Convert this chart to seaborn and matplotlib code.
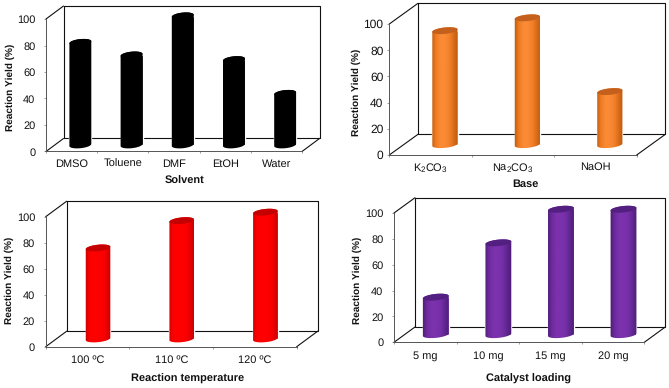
import numpy as np
import matplotlib
matplotlib.use("Agg")
import matplotlib.pyplot as plt
from matplotlib.colors import LinearSegmentedColormap
from matplotlib.lines import Line2D
from matplotlib.patches import Polygon
from matplotlib.ticker import FixedLocator
from matplotlib.transforms import Affine2D, IdentityTransform
import seaborn as sns

solvents = ["DMSO", "Toluene", "DMF", "EtOH", "Water"]
solvent_yield = [77.5, 68, 97.5, 64.5, 39]
bases = [r"K$_2$CO$_3$", r"Na$_2$CO$_3$", "NaOH"]
base_yield = [87, 96.8, 40.5]
temperatures = ["100 ºC", "110 ºC", "120 ºC"]
temperature_yield = [70, 91, 97.5]
loadings = ["5 mg", "10 mg", "15 mg", "20 mg"]
loading_yield = [29, 71, 97, 97]
y_ticks = [0, 20, 40, 60, 80, 100]

W, H = 669, 388
sns.set_theme(style="white")
plt.rcParams["font.family"] = ["Liberation Sans", "DejaVu Sans"]
plt.rcParams["mathtext.default"] = "regular"
plt.rcParams["mathtext.fontset"] = "custom"
plt.rcParams["mathtext.rm"] = "Liberation Sans"
plt.rcParams["text.hinting"] = "no_hinting"
plt.rcParams["text.hinting_factor"] = 1

fig = plt.figure(figsize=(W / 100, H / 100), dpi=100, facecolor="white")
figpx = Affine2D().scale(1 / W, -1 / H).translate(0, 1) + fig.transFigure


def panel(cats, vals, xlabel, front, depth, bar_w, stops, cap, xlab_xy, ylab_xy, ypad, xpad, yfs):
    x0, x1, y100, y0 = front
    dx, dy = depth
    ax = fig.add_axes([x0 / W, 1 - y0 / H, (x1 - x0) / W, (y0 - y100) / H])
    ax.set_facecolor("none")
    sns.barplot(x=cats, y=vals, color=stops[len(stops) // 2], width=bar_w, saturation=1, ax=ax, zorder=3)
    n = len(cats)
    ax.set_xlim(-0.5, n - 0.5)
    ax.set_ylim(0, 100)
    ax.set_autoscale_on(False)
    ax.set_yticks(y_ticks)
    ax.xaxis.set_minor_locator(FixedLocator(np.arange(n + 1) - 0.5))
    ax.tick_params(axis="x", which="major", length=0, pad=xpad, labelsize=7.8, labelcolor="#111111")
    ax.tick_params(axis="x", which="minor", length=1.6, width=0.5, color="#777777", bottom=True)
    ax.tick_params(axis="y", length=1.6, width=0.5, color="#777777", left=True, pad=ypad,
                   labelsize=yfs, labelcolor="#111111")
    for s in ["top", "right"]:
        ax.spines[s].set_visible(False)
    for s in ["left", "bottom"]:
        ax.spines[s].set_linewidth(0.7)
        ax.spines[s].set_color("#555555")
    ax.set_xlabel(xlabel, fontsize=7.6, fontweight="bold", color="#111111", ha="center", va="center")
    ax.set_ylabel("Reaction Yield (%)", fontsize=7.3, fontweight="bold", color="#111111",
                  ha="center", va="center")
    ax.xaxis.set_label_coords(*xlab_xy, transform=figpx)
    ax.yaxis.set_label_coords(*ylab_xy, transform=figpx)

    # back wall and floor edges
    shift = Affine2D().translate(dx, dy)
    back = ax.transAxes + shift
    ax.add_line(Line2D([0, 1, 1, 0, 0], [0, 0, 1, 1, 0], transform=back, color="#111111", lw=0.8,
                       clip_on=False, zorder=1))
    for xa, ya in [(0, 0), (1, 0), (0, 1)]:
        px = ax.transAxes.transform((xa, ya))
        ax.add_line(Line2D([px[0], px[0] + dx], [px[1], px[1] + dy], transform=IdentityTransform(),
                           color="#111111", lw=0.8, clip_on=False, zorder=1))

    # cylinders sit half way into the floor depth
    half = Affine2D().translate(dx / 2, dy / 2)
    cmap = LinearSegmentedColormap.from_list("cyl", stops)
    ang = np.deg2rad(6)
    for bar in ax.patches:
        bar.set_transform(ax.transData + half)
        bar.set_clip_on(False)
        (xl, yb), (xr, yt) = (ax.transData + half).transform(
            [(bar.get_x(), 0), (bar.get_x() + bar.get_width(), bar.get_height())])
        cx, rx, ry = (xl + xr) / 2, (xr - xl) / 2, 3.2

        def ell(t, yc):
            ex, ey = rx * np.cos(t), ry * np.sin(t)
            return np.c_[cx + ex * np.cos(ang) - ey * np.sin(ang), yc + ex * np.sin(ang) + ey * np.cos(ang)]

        outline = np.r_[ell(np.linspace(np.pi, 2 * np.pi, 40), yb), ell(np.linspace(0, np.pi, 40), yt)]
        clip = Polygon(outline, closed=True, transform=IdentityTransform())
        grad = np.linspace(0, 1, 128)[None, :]
        im = ax.imshow(grad, cmap=cmap, aspect="auto", origin="lower", zorder=4,
                       extent=(cx - rx - 1, cx + rx + 1, yb - 8, yt + 8), transform=IdentityTransform())
        im.set_clip_box(fig.bbox)
        im.set_clip_path(clip)
        ax.add_patch(Polygon(ell(np.linspace(0, 2 * np.pi, 60), yt), closed=True, facecolor=cap,
                             edgecolor="none", transform=IdentityTransform(), clip_on=False, zorder=5))
    ax.set_xlim(-0.5, n - 0.5)
    ax.set_ylim(0, 100)
    return ax


panel(solvents, solvent_yield, "Solvent", (46, 302, 19, 151.5), (17.5, 13), 0.43,
      ["#000000", "#000000"], "#000000", (185, 181), (10, 87), 6.0, 5.6, 7.8)
panel(bases, base_yield, "Base", (389.3, 636.7, 24, 155), (28.7, 20.7), 0.307,
      ["#b9560f", "#ee7b22", "#fb8a35", "#fb8a35", "#f2802a", "#d56a18", "#b9560f"], "#c4601c",
      (525, 184), (356, 92), 2.6, 5.0, 8.6)
panel(temperatures, temperature_yield, "Reaction temperature", (45.7, 296.7, 216.7, 346.7), (21, 15.5), 0.295,
      ["#c80000", "#fa0000", "#ff0000", "#ff0000", "#fc0000", "#e60000", "#bd0000"], "#c40000",
      (188, 379), (9, 280), 6.0, 5.6, 7.8)
panel(loadings, loading_yield, "Catalyst loading", (394, 644.3, 213, 342.3), (21, 15.3), 0.415,
      ["#4c1b72", "#6c2a9c", "#7c32ad", "#7c32ad", "#7430a6", "#5f2590", "#4a1a70"], "#531f80",
      (529, 379), (357, 280), 6.0, 6.0, 7.8)

fig.savefig("out.png", dpi=100, facecolor="white")
